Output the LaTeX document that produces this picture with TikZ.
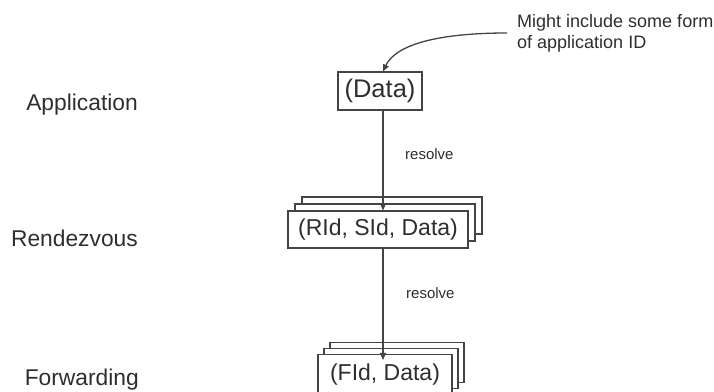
\documentclass[tikz,border=0pt]{standalone}
\usepackage{fontspec}
\setmainfont{Liberation Sans}
\usetikzlibrary{arrows.meta}
\definecolor{ink}{HTML}{2E2E2E}
\definecolor{edge}{HTML}{444444}
\tikzset{
  layer/.style={anchor=base east, text=ink, font=\fontsize{22.8}{26}\selectfont, inner sep=0pt},
  pbox/.style={draw=edge, line width=1.1pt, fill=white, inner sep=0pt, text=ink,
               font=\fontsize{23}{26}\selectfont},
  flow/.style={draw=edge, line width=1.1pt, -{Triangle[length=7pt,width=6pt]}},
  note/.style={text=ink, font=\fontsize{15}{18}\selectfont, inner sep=0pt, anchor=base west},
}
\begin{document}
\begin{tikzpicture}[x=1pt,y=-1pt]
  \useasboundingbox (0,0) rectangle (714,391);

  % layer names
  \node[layer] (lapp) at (138,110) {Application};
  \node[layer] (lrdv) at (138,246) {Rendezvous};
  \node[layer] (lfwd) at (139,385) {Forwarding};

  % application packet
  \node[pbox, minimum width=84pt, minimum height=38pt,
        font=\fontsize{25.5}{28}\selectfont] (data) at (380,91) {(Data)};

  % rendezvous packets (stack of three)
  \node[pbox, minimum width=180pt, minimum height=37pt] (rdv3) at (392,215.5) {};
  \node[pbox, minimum width=180pt, minimum height=37pt] (rdv2) at (385,222.5) {};
  \node[pbox, minimum width=180pt, minimum height=37pt] (rdv) at (378,229.5) {(RId, SId, Data)};

  % forwarding packets (stack of three)
  \node[pbox, minimum width=134pt, minimum height=40pt] (fwd3) at (397,362.5) {};
  \node[pbox, minimum width=134pt, minimum height=40pt] (fwd2) at (391,368.5) {};
  \node[pbox, minimum width=134pt, minimum height=40pt] (fwd) at (385,374.5) {(FId, Data)};

  % resolve arrows along x = 383
  \coordinate (ax) at (383,0);
  \draw[flow] (data.south -| ax) -- (rdv.north -| ax);
  \draw[flow] (rdv.south -| ax) -- ([yshift=-6pt]fwd.north -| ax);
  \node[note] (r1) at (405,159) {resolve};
  \node[note] (r2) at (406,298) {resolve};

  % annotation
  \node[anchor=west, align=left, text=ink, inner sep=0pt,
        font=\fontsize{18}{21}\selectfont] (ann) at (517,33)
        {Might include some form\\of application ID};
  \draw[flow, line width=1.3pt] ([xshift=-10pt]ann.west) .. controls (440,33) and (396,44) .. (data.north -| ax);
\end{tikzpicture}
\end{document}
